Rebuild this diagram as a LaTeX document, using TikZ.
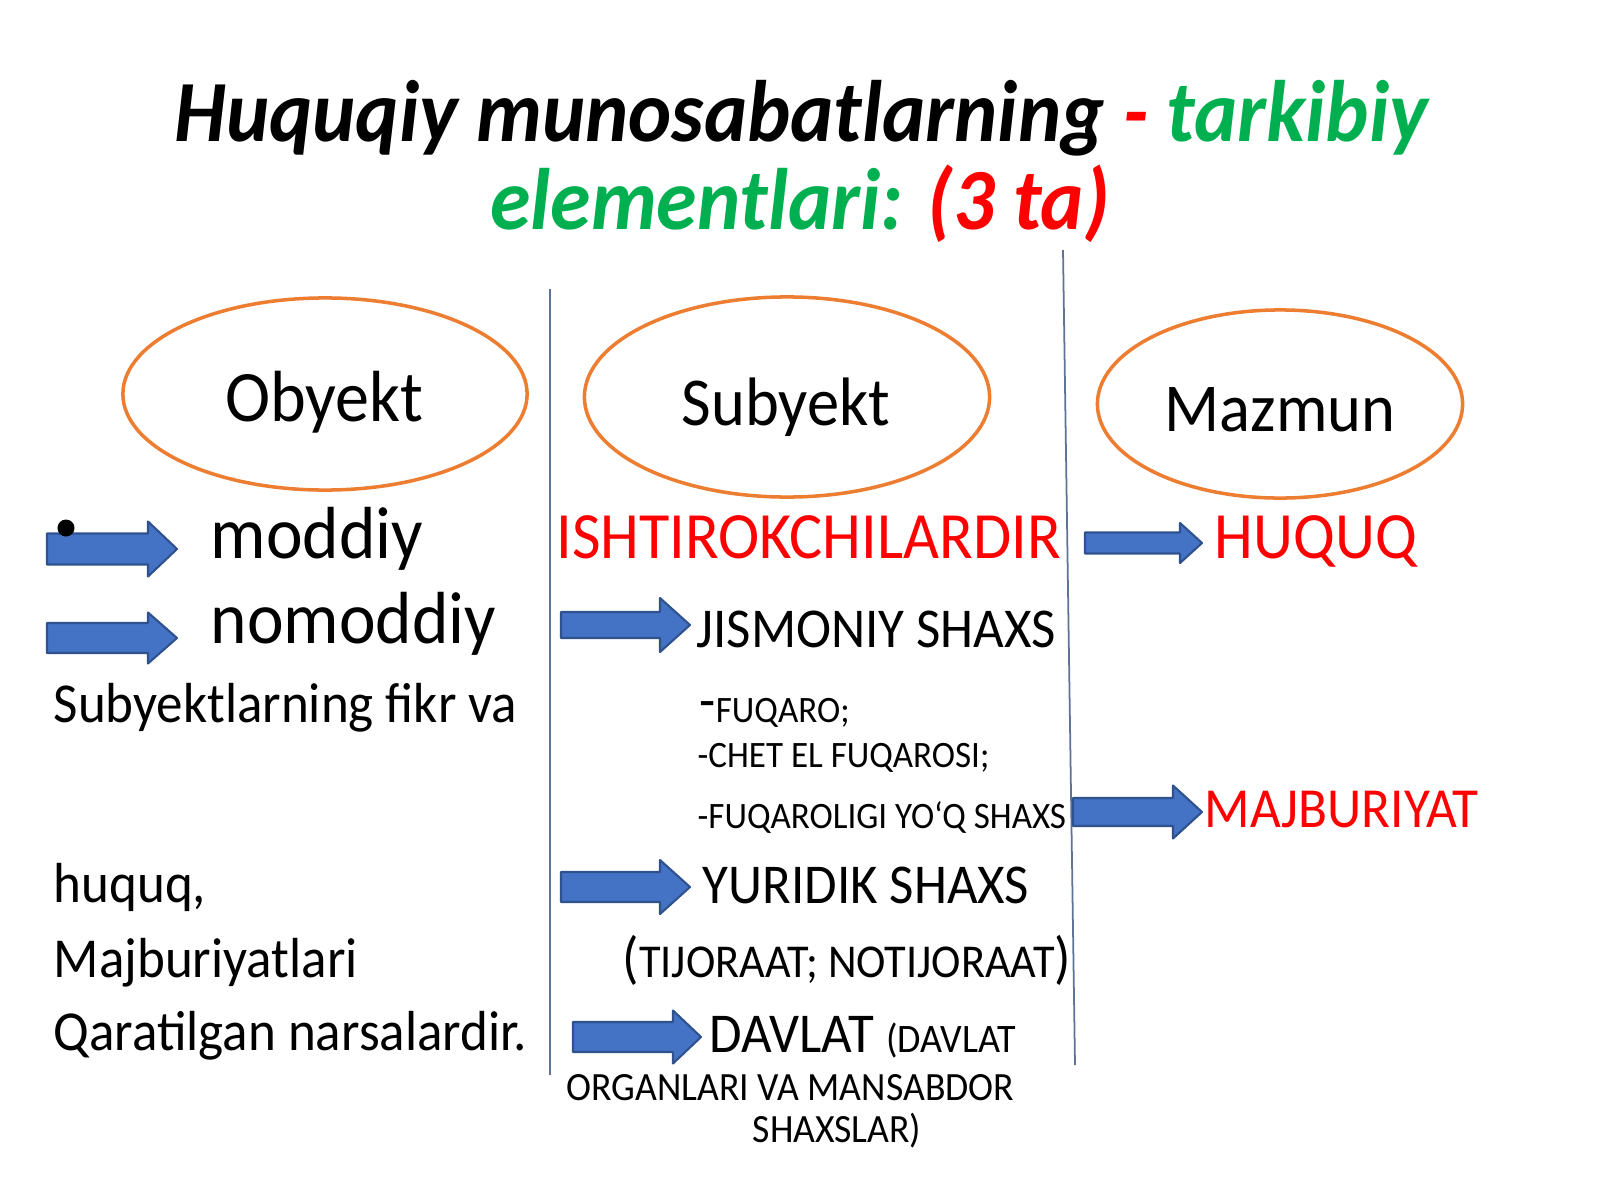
\documentclass[tikz,border=0pt]{standalone}
\usepackage{fontspec}
\setmainfont{Carlito}[FakeStretch=0.94]
\usetikzlibrary{shapes.geometric}

\definecolor{slidegreen}{RGB}{0,176,80}
\definecolor{slidered}{RGB}{255,0,0}
\definecolor{ovalorange}{RGB}{237,125,49}
\definecolor{arrowblue}{RGB}{68,114,196}
\definecolor{arrowedge}{RGB}{47,82,143}
\definecolor{rulegray}{RGB}{95,115,150}

\tikzset{
  titletxt/.style={inner sep=0pt, anchor=base, font=\fontsize{24.8}{28}\selectfont\bfseries\itshape},
  ovalbox/.style={ellipse, draw=ovalorange, line width=1pt, inner sep=0pt},
  ovaltxt/.style={inner sep=0pt, anchor=base, font=\fontsize{19.5}{22}\selectfont},
  txt/.style={inner sep=0pt, anchor=base west},
  bigtxt/.style={txt, font=\fontsize{21}{24}\selectfont},
  lefttxt/.style={txt, font=\fontsize{16.05}{18}\selectfont},
  redtxt/.style={txt, text=slidered, font=\fontsize{18.8}{20}\selectfont},
  midtxt/.style={txt, font=\fontsize{16}{18}\selectfont},
  smalltxt/.style={txt, font=\fontsize{10.6}{12}\selectfont},
  notetxt/.style={txt, font=\fontsize{11.4}{13}\selectfont},
  colrule/.style={draw=rulegray, line width=0.5pt},
  blockarrow/.style={fill=arrowblue, draw=arrowedge, line width=0.6pt, line join=round}
}

\begin{document}
\begin{tikzpicture}[x=0.01cm, y=-0.01cm]
        \useasboundingbox[fill=white] (0,0) rectangle (1600,1200);
        % title
        \node[titletxt] (titleA) at (801,141) {Huquqiy munosabatlarning \textcolor{slidered}{-} \textcolor{slidegreen}{tarkibiy}};
        \node[titletxt] (titleB) at (800,229) {\textcolor{slidegreen}{elementlari:} \textcolor{slidered}{(3 ta)}};
        % column rules
        \draw[colrule] (550,289) -- (550,1075);
        \draw[colrule] (1063,250) -- (1075,1065);
        % the three elements
        \node[ovalbox, minimum width=4.04cm, minimum height=1.92cm] (obyekt) at (325,394) {};
        \node[ovalbox, minimum width=4.05cm, minimum height=2.0cm] (subyekt) at (787,397) {};
        \node[ovalbox, minimum width=3.65cm, minimum height=1.88cm] (mazmun) at (1280,404) {};
        \node[ovaltxt, font=\fontsize{20.6}{22}\selectfont] (obyektlbl) at (324,421) {Obyekt};
        \node[ovaltxt] (subyektlbl) at (786,425) {Subyekt};
        \node[ovaltxt] (mazmunlbl) at (1280,431) {Mazmun};
        % block arrows: body start / head start / tip / centre / half body / half head
        \foreach \xa/\xh/\xb/\yc/\bw/\hw in {47/148/177/549/15.5/27.5, 47/148/177/638/15/25.5,
                561/660/690/625/13/27, 561/660/690/887/15/27, 573/673/701/1037/15/26.5,
                1085/1180/1202/543/10.5/20, 1073/1173/1202/812/14/26.5} {
                \draw[blockarrow] (\xa,\yc-\bw) -- (\xh,\yc-\bw) -- (\xh,\yc-\hw) -- (\xb,\yc)
                        -- (\xh,\yc+\hw) -- (\xh,\yc+\bw) -- (\xa,\yc+\bw) -- cycle;
            }
        \fill[black] (66,528) circle[radius=0.085cm];
        % left column
        \node[bigtxt] (moddiy) at (210,558) {moddiy};
        \node[bigtxt] (nomoddiy) at (210,643) {nomoddiy};
        \node[lefttxt] (fikr) at (53,722) {Subyektlarning fikr va};
        \node[lefttxt] (huquq) at (53,902) {huquq,};
        \node[lefttxt] (majb) at (53,977) {Majburiyatlari};
        \node[lefttxt] (narsa) at (53,1050) {Qaratilgan narsalardir.};
        % middle column
        \node[redtxt] (ishtirok) at (556,558) {ISHTIROKCHILARDIR};
        \node[midtxt] (jismoniy) at (696,647) {JISMONIY SHAXS};
        \node[smalltxt] (fuqaro) at (699,722) {{\fontsize{16}{16}\selectfont\raisebox{0.03cm}{-}}FUQARO;};
        \node[smalltxt] (chetel) at (697,767) {-CHET EL FUQAROSI;};
        \node[smalltxt] (yoq) at (697,828) {-FUQAROLIGI YO‘Q SHAXS};
        \node[midtxt] (yuridik) at (702,903) {YURIDIK SHAXS};
        \node[txt, font=\fontsize{13.4}{15}\selectfont] (tijorat) at (622,977)
                {{\fontsize{16.4}{16}\selectfont(}TIJORAAT; NOTIJORAAT{\fontsize{16.4}{16}\selectfont)}};
        \node[txt, font=\fontsize{16}{17}\selectfont] (davlat) at (709,1052)
                {DAVLAT {\fontsize{11.5}{13}\selectfont(DAVLAT}};
        \node[notetxt] (organ) at (566,1100) {ORGANLARI VA MANSABDOR};
        \node[notetxt] (mansab) at (752,1142) {SHAXSLAR)};
        % right column
        \node[redtxt] (huquqr) at (1214,558) {HUQUQ};
        \node[redtxt, font=\fontsize{16.1}{17}\selectfont] (majbr) at (1204,827) {MAJBURIYAT};
    \end{tikzpicture}
\end{document}
